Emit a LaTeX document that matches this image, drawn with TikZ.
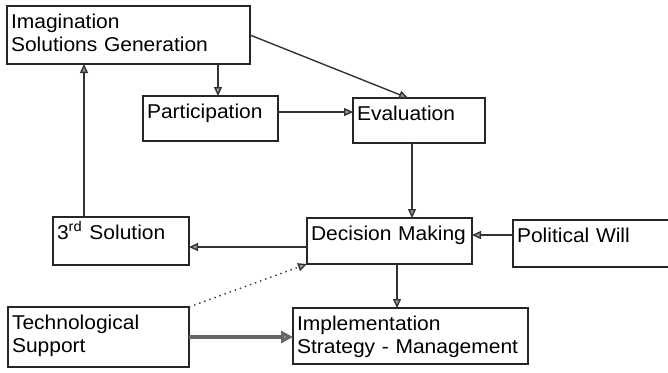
\documentclass[tikz,border=0pt]{standalone}
\usepackage{fontspec}
\setmainfont{Liberation Sans}[FakeStretch=1.05]
\usetikzlibrary{arrows.meta}
\begin{document}
\begin{tikzpicture}
	[x=0.5pt, y=-0.5pt, font=\fontsize{10}{11.5}\selectfont,
	box/.style={draw=black!85, line width=0.7pt, anchor=north west, align=left, inner xsep=2pt, inner ysep=0pt, outer sep=0pt, text height=11pt},
	arr/.style={draw=black!80, line width=0.7pt, -{Triangle[length=4.5pt,width=4pt,fill=black!40]}}]
	\useasboundingbox (0,0) rectangle (668,372);
	\node (imag) [box, text width=117.5pt, text depth=18pt] at (7,6) {Imagination\\Solutions Generation};
	\node (part) [box, text width=63.5pt, text depth=11.5pt] at (143,96) {Participation};
	\node (eval) [box, text width=62pt, text depth=11.5pt] at (353,98) {Evaluation};
	\node (dec) [box, text width=78.5pt, text depth=12pt] at (307,218) {Decision Making};
	\node (pol) [box, text width=75.5pt, text depth=12.5pt] at (513,220) {Political Will};
	\node (sol) [box, text width=64pt, text depth=13pt] at (53,217) {3\textsuperscript{rd} Solution};
	\node (tech) [box, text width=86.5pt, text depth=19pt] at (8,307) {Technological\\Support};
	\node (impl) [box, text width=113.5pt, text depth=17pt] at (293,308) {Implementation\\Strategy - Management};
	\draw [arr] (218,0 |- imag.south) -- (218,0 |- part.north);
	\draw [arr] (imag.east) -- (408,0 |- eval.north);
	\draw [arr] (part.east |- 0,112) -- (eval.west |- 0,112);
	\draw [arr] (412,0 |- eval.south) -- (412,0 |- dec.north);
	\draw [arr] (pol.west |- 0,235) -- (dec.east |- 0,235);
	\draw [arr] (dec.west |- 0,247) -- (sol.east |- 0,247);
	\draw [arr] (84,0 |- sol.north) -- (84,0 |- imag.south);
	\draw [arr] (397,0 |- dec.south) -- (397,0 |- impl.north);
	\draw [arr, dotted] (tech.north east) -- (dec.south west);
	\draw [arr, line width=1.6pt, draw=black!60, -{Triangle[length=6pt,width=6pt,fill=black!35]}] (tech.east) -- (impl.west |- tech.east);
\end{tikzpicture}
\end{document}
